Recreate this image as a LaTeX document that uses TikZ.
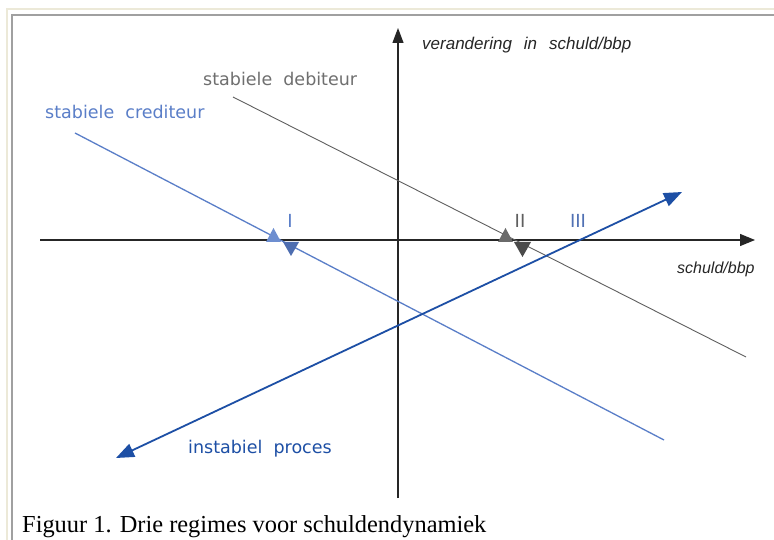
\documentclass[tikz,border=0pt]{standalone}
\usepackage{fontspec}
\setmainfont{Liberation Serif}
\newfontfamily\lblfont{DejaVu Sans}
\newfontfamily\itfont{Liberation Sans}
\usetikzlibrary{arrows.meta}
\definecolor{cred}{HTML}{5A7EC8}
\definecolor{credup}{HTML}{6D8ED0}
\definecolor{creddn}{HTML}{4D6DB0}
\definecolor{deb}{HTML}{5F5F5F}
\definecolor{debup}{HTML}{6A6A6A}
\definecolor{debdn}{HTML}{4A4A4A}
\definecolor{inst}{HTML}{1D4FA5}
\definecolor{frameb}{HTML}{ECE9D8}
\definecolor{frameg}{HTML}{A0A0A0}
\begin{document}
\begin{tikzpicture}[x=1pt,y=-1pt,
  axis/.style={draw=black!85, line width=1.2pt},
  lbl/.style={font=\lblfont\fontsize{17.5}{19}\selectfont, anchor=base west, inner sep=0pt},
  itlbl/.style={font=\itfont\itshape\fontsize{17}{19}\selectfont, anchor=base west, inner sep=0pt, text=black!85},
  roman/.style={font=\lblfont\fontsize{18}{20}\selectfont, anchor=base, inner sep=0pt},
  tri/.style={draw=none}]
\useasboundingbox (0,0) rectangle (774,540);
\fill[white] (0,0) rectangle (774,540);
\draw[frameb, line width=2pt] (7,540) -- (7,9) -- (774,9);
\draw[frameg, line width=2pt] (12,540) -- (12,15) -- (774,15);
% axes
\coordinate (xa0) at (40,240);
\coordinate (xa1) at (755,240);
\coordinate (ya0) at (398,498);
\coordinate (ya1) at (398,28);
\draw[axis, -{Triangle[width=12pt,length=15pt]}] (xa0) -- (xa1);
\draw[axis, -{Triangle[width=11pt,length=15pt]}] (ya0) -- (ya1);
% lines
\coordinate (d0) at (233,97);
\coordinate (d1) at (746,357);
\coordinate (c0) at (75,133);
\coordinate (c1) at (664,440);
\coordinate (i0) at (116,458);
\coordinate (i1) at (682,192);
\draw[deb, line width=0.9pt] (d0) -- (d1);
\draw[cred, line width=1.3pt] (c0) -- (c1);
\draw[inst, line width=1.8pt, {Triangle[width=14pt,length=18pt]}-{Triangle[width=14pt,length=18pt]}] (i0) -- (i1);
% triangles at crossings
\fill[credup] (266,242) -- (281,242) -- (273.5,228) -- cycle;
\fill[creddn] (283,242) -- (299,242) -- (291,256) -- cycle;
\fill[debup] (498,242) -- (513,242) -- (505.5,228) -- cycle;
\fill[debdn] (514,242) -- (531,242) -- (522.5,257) -- cycle;
% labels
\node[lbl, text=deb!90] (ldeb) at (203,86) {stabiele\ \ debiteur};
\node[lbl, text=cred] (lcred) at (45,119) {stabiele\ \ crediteur};
\node[lbl, text=inst] (linst) at (188,453) {instabiel\ \ proces};
\node[itlbl] (ly) at (422,50) {verandering\hspace{12pt}in\hspace{12pt}schuld/bbp};
\node[itlbl, font=\itfont\itshape\fontsize{16}{18}\selectfont] (lx) at (677,273) {schuld/bbp};
\node[roman, text=cred] (r1) at (290,228) {I};
\node[roman, text=deb] (r2) at (520,228) {II};
\node[roman, text=cred!90!black] (r3) at (578,228) {III};
\node[font=\fontsize{24.4}{26}\selectfont, anchor=base west, inner sep=0pt] (cap) at (22,532) {Figuur 1. Drie regimes voor schuldendynamiek};
\end{tikzpicture}
\end{document}
